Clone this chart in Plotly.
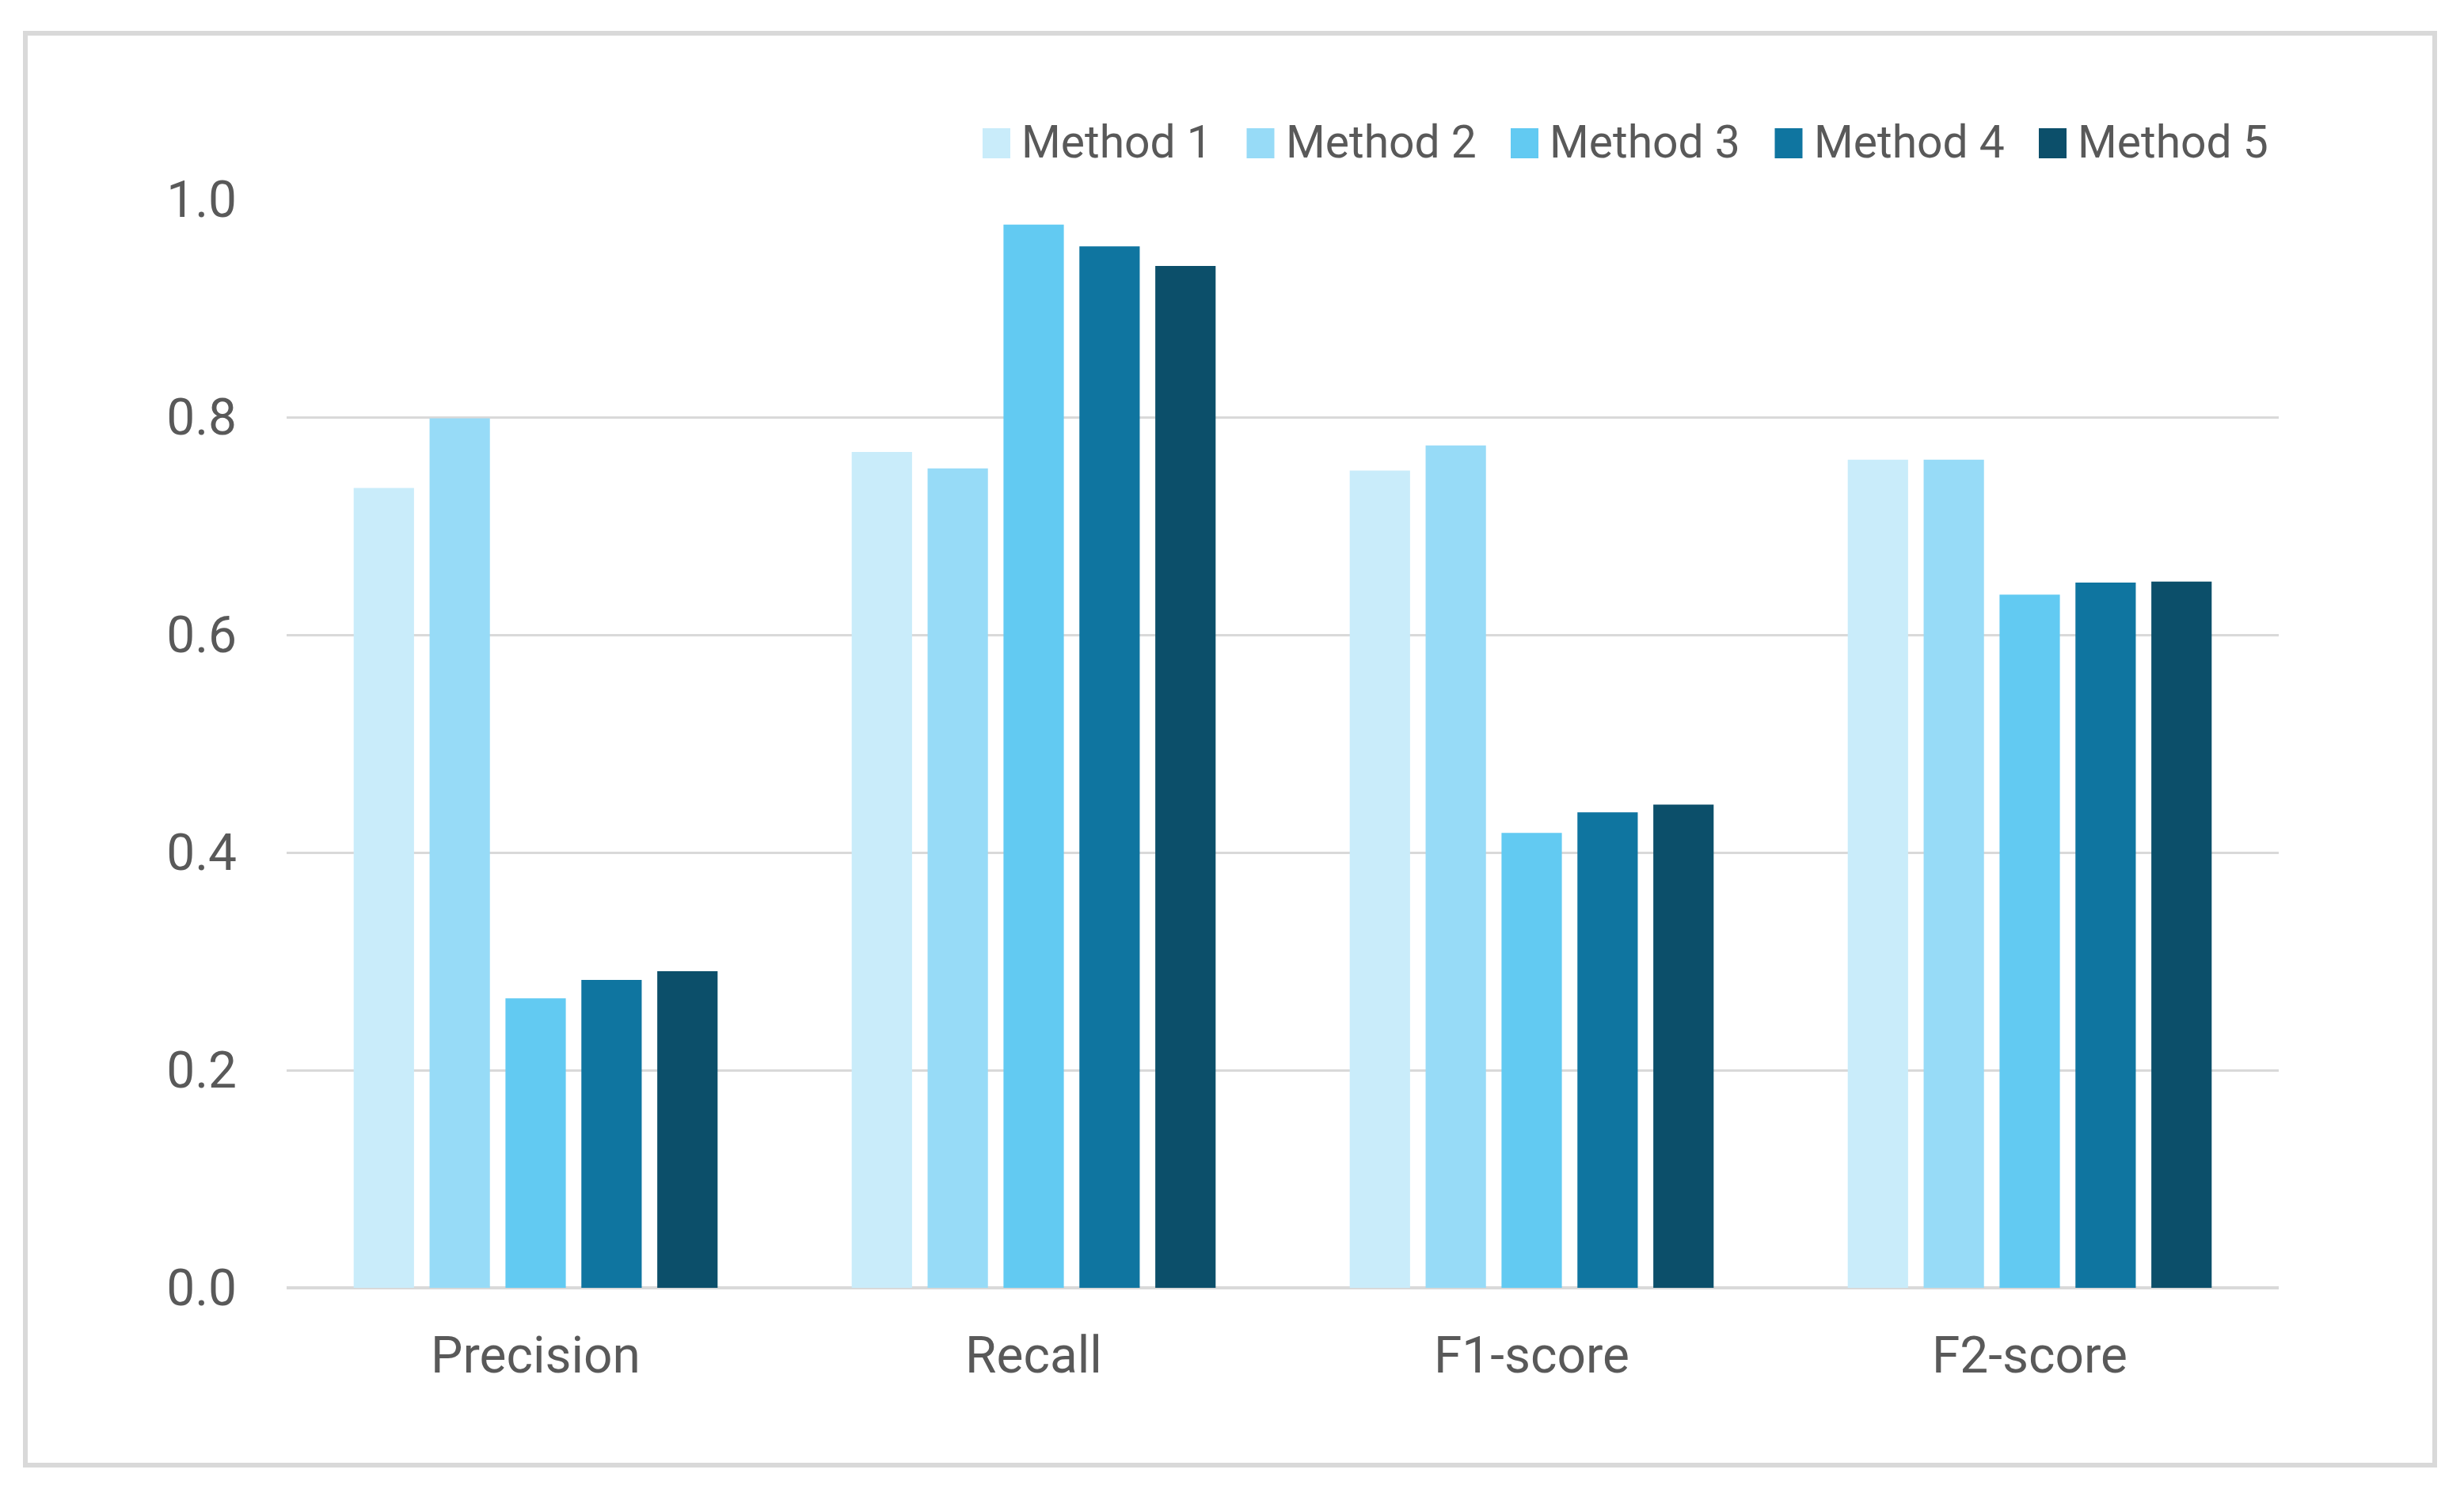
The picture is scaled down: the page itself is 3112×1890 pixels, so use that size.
import plotly.graph_objects as go

# data
metrics = ['Precision', 'Recall', 'F1-score', 'F2-score']
methods = ['Method 1', 'Method 2', 'Method 3', 'Method 4', 'Method 5']
method_1 = [0.735, 0.768, 0.751, 0.761]
method_2 = [0.799, 0.753, 0.774, 0.761]
method_3 = [0.266, 0.977, 0.418, 0.637]
method_4 = [0.283, 0.957, 0.437, 0.648]
method_5 = [0.291, 0.939, 0.444, 0.649]
y_ticks = [0.0, 0.2, 0.4, 0.6, 0.8, 1.0]

values = [method_1, method_2, method_3, method_4, method_5]
colors = ['#C9ECFA', '#97DBF7', '#62CAF2', '#0F75A0', '#0C4F6A']

# page / plot area in pixels (page body has an 8px margin)
OFF = 8
W, H = 3112 - OFF, 1890 - OFF
L, R, T, B = 362 - OFF, 234, 252 - OFF, 263
PW, PH = W - L - R, H - T - B
FONT = 'Roboto'
TXT = '#595959'


def px_x(p):
    return (p - OFF - L) / PW


def px_y(p):
    return (H - B - (p - OFF)) / PH


fig = go.Figure()
for name, vals, col in zip(methods, values, colors):
    fig.add_trace(go.Bar(x=metrics, y=vals, name=name, marker_color=col,
                         marker_line_width=0, showlegend=False))

# outer frame
shapes = [dict(type='rect', xref='paper', yref='paper',
               x0=px_x(32), x1=px_x(3075), y0=px_y(1851), y1=px_y(42),
               line=dict(color='#D9D9D9', width=6), fillcolor='rgba(0,0,0,0)',
               layer='below')]

# legend drawn by hand so the swatches are as large as in the original
annotations = []
for i, (name, col) in enumerate(zip(methods, colors)):
    x0 = 1241 + i * 333.5
    shapes.append(dict(type='rect', xref='paper', yref='paper',
                       x0=px_x(x0), x1=px_x(x0 + 35), y0=px_y(200), y1=px_y(162),
                       line=dict(width=0), fillcolor=col))
    annotations.append(dict(text=name, xref='paper', yref='paper',
                            x=px_x(x0 + 47), y=px_y(180), xanchor='left', yanchor='middle',
                            showarrow=False, font=dict(family=FONT, size=57, color=TXT)))

fig.update_layout(
    width=W, height=H,
    margin=dict(l=L, r=R, t=T, b=B, pad=0),
    paper_bgcolor='white', plot_bgcolor='white',
    barmode='group', bargap=0.238, bargroupgap=0.205,
    shapes=shapes, annotations=annotations,
    font=dict(family=FONT, color=TXT),
)
fig.update_xaxes(showgrid=False, showline=False, ticks='',
                 tickfont=dict(size=64, color=TXT), ticklabelstandoff=42)
fig.update_yaxes(range=[0, 1.0], tickvals=y_ticks, tickformat='.1f',
                 showgrid=True, gridcolor='#D9D9D9', gridwidth=2.5,
                 zeroline=True, zerolinecolor='#D9D9D9', zerolinewidth=4,
                 showline=False, ticks='',
                 tickfont=dict(size=64, color=TXT), ticklabelstandoff=62)

fig.write_html("out.html")
